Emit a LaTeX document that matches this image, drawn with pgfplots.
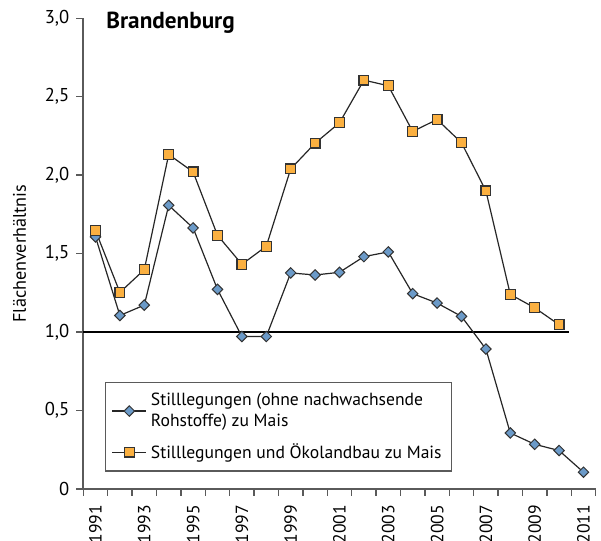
\documentclass[border=0pt]{standalone}
\usepackage{fontspec}
\setmainfont{PT Sans}
\usepackage{pgfplots}
\pgfplotsset{compat=1.18}
\definecolor{dblue}{HTML}{6B9AC8}
\definecolor{dorange}{HTML}{FBB040}
\definecolor{axgray}{HTML}{5A5A5A}
\begin{document}
\begin{tikzpicture}[font=\fontsize{9.1}{11}\selectfont]
\begin{axis}[
  at={(0,0)}, anchor=south west,
  width=256.2pt, height=235.35pt, scale only axis,
  xmin=1990.5, xmax=2011.5, ymin=0, ymax=3,
  axis lines*=left,
  axis line style={axgray, line width=0.8pt},
  tick style={axgray, line width=0.7pt},
  tick align=outside,
  tick label style={font=\fontsize{9.3}{11}\selectfont},
  label style={font=\fontsize{9.1}{11}\selectfont},
  xtick={1991,1993,...,2011},
  xticklabels={1991,1993,1995,1997,1999,2001,2003,2005,2007,2009,2011},
  minor xtick={1990.5,1991.5,...,2011.5},
  major x tick style={draw=none},
  minor tick length=3.5pt,
  major tick length=3.5pt,
  xticklabel style={rotate=90, anchor=east, xshift=-1pt, font=\fontsize{8.8}{11}\selectfont},
  ytick={0,0.5,1,1.5,2,2.5,3},
  yticklabels={0,{0,5},{1,0},{1,5},{2,0},{2,5},{3,0}},
  /pgf/number format/assume math mode=true,
  ylabel={Flächenverhältnis},
  ylabel shift=2.5pt,
  clip=false,
  legend style={at={(0.0424,0.2267)}, anchor=north west, draw=axgray, line width=0.6pt,
    cells={align=left, anchor=west, font=\fontsize{8.8}{10.4}\selectfont},
    inner xsep=3pt, inner ysep=3pt, row sep=3pt},
  legend cell align=left,
]
\addplot[black, line width=1.1pt, forget plot] coordinates {(1990.5,1) (2010.4,1)};
\addplot[line width=0.6pt, color=black!85, mark=square*, mark size=1.85pt,
  mark options={fill=dblue, draw=black!80, rotate=45, line width=0.5pt}] coordinates {
(1991,1.607) (1992,1.106) (1993,1.172) (1994,1.808) (1995,1.664) (1996,1.272)
(1997,0.972) (1998,0.972) (1999,1.377) (2000,1.364) (2001,1.381) (2002,1.481)
(2003,1.511) (2004,1.245) (2005,1.185) (2006,1.100) (2007,0.892) (2008,0.357)
(2009,0.285) (2010,0.245) (2011,0.107)};
\addlegendentry{Stilllegungen (ohne nachwachsende\\Rohstoffe) zu Mais}
\addplot[line width=0.6pt, color=black!85, mark=square*, mark size=2.45pt,
  mark options={fill=dorange, draw=black!80, line width=0.6pt}] coordinates {
(1991,1.647) (1992,1.253) (1993,1.398) (1994,2.132) (1995,2.021) (1996,1.617)
(1997,1.432) (1998,1.547) (1999,2.040) (2000,2.204) (2001,2.334) (2002,2.606)
(2003,2.570) (2004,2.279) (2005,2.355) (2006,2.207) (2007,1.900) (2008,1.240)
(2009,1.155) (2010,1.047)};
\addlegendentry{Stilllegungen und Ökolandbau zu Mais}
\node[anchor=base west, font=\fontsize{11.6}{13}\selectfont\bfseries, inner sep=0pt]
  at (axis cs:1991.43,2.934) {Brandenburg};
\end{axis}
\pgfresetboundingbox
\path (-41.65pt,-26pt) rectangle (258.85pt,244.5pt);
\end{tikzpicture}
\end{document}
